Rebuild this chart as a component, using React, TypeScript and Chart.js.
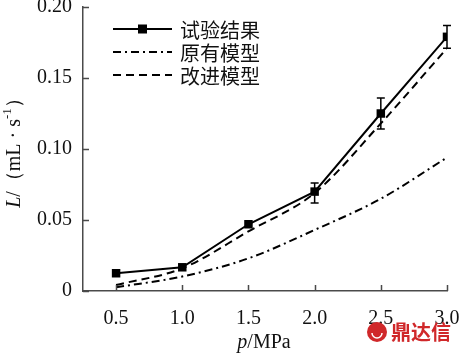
import React, { useEffect, useRef } from "react";
import { Chart, registerables } from "chart.js";

Chart.register(...registerables);

const pressures = [0.5, 1.0, 1.5, 2.0, 2.5, 3.0];
const experimental = [0.0125, 0.0167, 0.047, 0.07, 0.125, 0.179];
const errLow = [null, null, null, 0.062, 0.114, 0.171];
const errHigh = [null, null, null, 0.076, 0.136, 0.187];
const originalModel = [0.0026, 0.0102, 0.023, 0.043, 0.065, 0.094];
const improvedModel = [0.0042, 0.016, 0.042, 0.069, 0.118, 0.171];
const xTicks = [0.5, 1.0, 1.5, 2.0, 2.5, 3.0];
const yTicks = [0, 0.05, 0.1, 0.15, 0.2];
const seriesNames = ["试验结果", "原有模型", "改进模型"];
const watermark = "鼎达信";

const AXIS = "#4a4a4a";
const SERIF = "'Liberation Serif', 'DejaVu Serif', serif";
const CJK = "'Noto Sans CJK SC', sans-serif";

const toXY = (arr: number[]) => arr.map((v, i) => ({ x: pressures[i], y: v }));

const customDraw = {
  id: "customDraw",
  afterDatasetsDraw(chart: any) {
    const ctx = chart.ctx;
    const xs = chart.scales.x;
    const ys = chart.scales.y;
    const area = chart.chartArea;
    ctx.save();
    // inward ticks
    ctx.strokeStyle = AXIS;
    ctx.lineWidth = 1.5;
    ctx.beginPath();
    xTicks.forEach((v) => {
      const px = Math.round(xs.getPixelForValue(v)) + 0.5;
      ctx.moveTo(px, area.bottom);
      ctx.lineTo(px, area.bottom - 6);
    });
    yTicks.forEach((v) => {
      const py = Math.round(ys.getPixelForValue(v)) + 0.5;
      ctx.moveTo(area.left, py);
      ctx.lineTo(area.left + 6, py);
    });
    ctx.stroke();

    // error bars
    ctx.strokeStyle = "#000";
    ctx.lineWidth = 1.5;
    ctx.beginPath();
    pressures.forEach((p, i) => {
      const lo = errLow[i];
      const hi = errHigh[i];
      if (lo == null || hi == null) return;
      const px = xs.getPixelForValue(p);
      const yl = ys.getPixelForValue(lo);
      const yh = ys.getPixelForValue(hi);
      ctx.moveTo(px, yl);
      ctx.lineTo(px, yh);
      ctx.moveTo(px - 4, yl);
      ctx.lineTo(px + 4, yl);
      ctx.moveTo(px - 4, yh);
      ctx.lineTo(px + 4, yh);
    });
    ctx.stroke();

    // legend
    const dashes = [[], [8, 4, 2, 4], [8, 5]];
    const rows = [29, 52, 75];
    seriesNames.forEach((name, i) => {
      const y = rows[i];
      ctx.strokeStyle = "#000";
      ctx.lineWidth = 2;
      ctx.setLineDash(dashes[i]);
      ctx.beginPath();
      ctx.moveTo(113, y);
      ctx.lineTo(172, y);
      ctx.stroke();
      ctx.setLineDash([]);
      if (i === 0) {
        ctx.fillStyle = "#000";
        ctx.fillRect(138, y - 4.5, 9, 9);
      }
      ctx.fillStyle = "#111";
      ctx.font = `20px ${CJK}`;
      ctx.textAlign = "left";
      ctx.textBaseline = "middle";
      ctx.fillText(name, 180, y + 1);
    });

    // y title
    ctx.save();
    ctx.translate(15, 148);
    ctx.rotate(-Math.PI / 2);
    const segs = [
      { t: "L", f: `italic 20px ${SERIF}`, dy: 0 },
      { t: "/（mL · s", f: `20px ${SERIF}`, dy: 0 },
      { t: "-1", f: `13px ${SERIF}`, dy: -7 },
      { t: "）", f: `20px ${SERIF}`, dy: 0 },
    ];
    let total = 0;
    segs.forEach((s) => {
      ctx.font = s.f;
      total += ctx.measureText(s.t).width;
    });
    let cx = -total / 2;
    ctx.fillStyle = "#111";
    ctx.textBaseline = "middle";
    ctx.textAlign = "left";
    segs.forEach((s) => {
      ctx.font = s.f;
      ctx.fillText(s.t, cx, s.dy);
      cx += ctx.measureText(s.t).width;
    });
    ctx.restore();

    // x title
    const xsegs = [
      { t: "p", f: `italic 20px ${SERIF}` },
      { t: "/MPa", f: `20px ${SERIF}` },
    ];
    let xt = 0;
    xsegs.forEach((s) => {
      ctx.font = s.f;
      xt += ctx.measureText(s.t).width;
    });
    let xx = 264 - xt / 2;
    ctx.fillStyle = "#111";
    ctx.textBaseline = "middle";
    xsegs.forEach((s) => {
      ctx.font = s.f;
      ctx.fillText(s.t, xx, 343);
      xx += ctx.measureText(s.t).width;
    });

    // watermark
    ctx.fillStyle = "#d0282a";
    ctx.beginPath();
    ctx.arc(377, 332, 10, 0, Math.PI * 2);
    ctx.fill();
    ctx.strokeStyle = "#fff";
    ctx.lineWidth = 1.5;
    ctx.beginPath();
    ctx.arc(377, 333, 5, 0, Math.PI);
    ctx.stroke();
    ctx.fillStyle = "#d0282a";
    ctx.font = `bold 20px ${CJK}`;
    ctx.textBaseline = "middle";
    ctx.textAlign = "left";
    ctx.fillText(watermark, 391, 332);
    ctx.restore();
  },
};

export default function App() {
  const ref = useRef<HTMLCanvasElement | null>(null);
  useEffect(() => {
    if (!ref.current) return;
    const chart = new Chart(ref.current, {
      type: "line",
      data: {
        datasets: [
          {
            label: seriesNames[0],
            data: toXY(experimental),
            borderColor: "#000",
            backgroundColor: "#000",
            borderWidth: 2,
            pointStyle: "rect",
            pointRadius: 6,
            pointBorderWidth: 0,
            tension: 0,
          },
          {
            label: seriesNames[1],
            data: toXY(originalModel),
            borderColor: "#000",
            borderWidth: 2,
            borderDash: [8, 4, 2, 4],
            pointRadius: 0,
            cubicInterpolationMode: "monotone",
          },
          {
            label: seriesNames[2],
            data: toXY(improvedModel),
            borderColor: "#000",
            borderWidth: 2,
            borderDash: [8, 5],
            pointRadius: 0,
            cubicInterpolationMode: "monotone",
          },
        ],
      },
      options: {
        responsive: false,
        animation: false,
        layout: { padding: { top: 7, right: 16, left: 0, bottom: 0 } },
        plugins: { legend: { display: false }, tooltip: { enabled: false } },
        scales: {
          x: {
            type: "linear",
            min: 0.25,
            max: 3.0,
            afterBuildTicks: (s: any) => {
              s.ticks = xTicks.map((v) => ({ value: v }));
            },
            afterFit: (s: any) => {
              s.height = 63;
              s.paddingLeft = 0;
              s.paddingRight = 0;
            },
            grid: { display: true, drawOnChartArea: false, drawTicks: false },
            border: { display: true, color: AXIS, width: 1.5 },
            ticks: {
              padding: 16,
              color: "#111",
              font: { family: SERIF, size: 20 },
              maxRotation: 0,
              callback: (v: any) => Number(v).toFixed(1),
            },
          },
          y: {
            min: 0,
            max: 0.2,
            afterBuildTicks: (s: any) => {
              s.ticks = yTicks.map((v) => ({ value: v }));
            },
            afterFit: (s: any) => {
              s.width = 83;
              s.paddingTop = 0;
              s.paddingBottom = 0;
            },
            grid: { display: true, drawOnChartArea: false, drawTicks: false },
            border: { display: true, color: AXIS, width: 1.5 },
            ticks: {
              padding: 11,
              color: "#111",
              font: { family: SERIF, size: 20 },
              callback: (v: any) => (Number(v) === 0 ? "0" : Number(v).toFixed(2)),
            },
          },
        },
      },
      plugins: [customDraw],
    });
    return () => chart.destroy();
  }, []);
  return (
    <div style={{ position: "fixed", left: 0, top: 0, width: 463, height: 354, background: "#fff" }}>
      <canvas ref={ref} width={463} height={354} />
    </div>
  );
}
